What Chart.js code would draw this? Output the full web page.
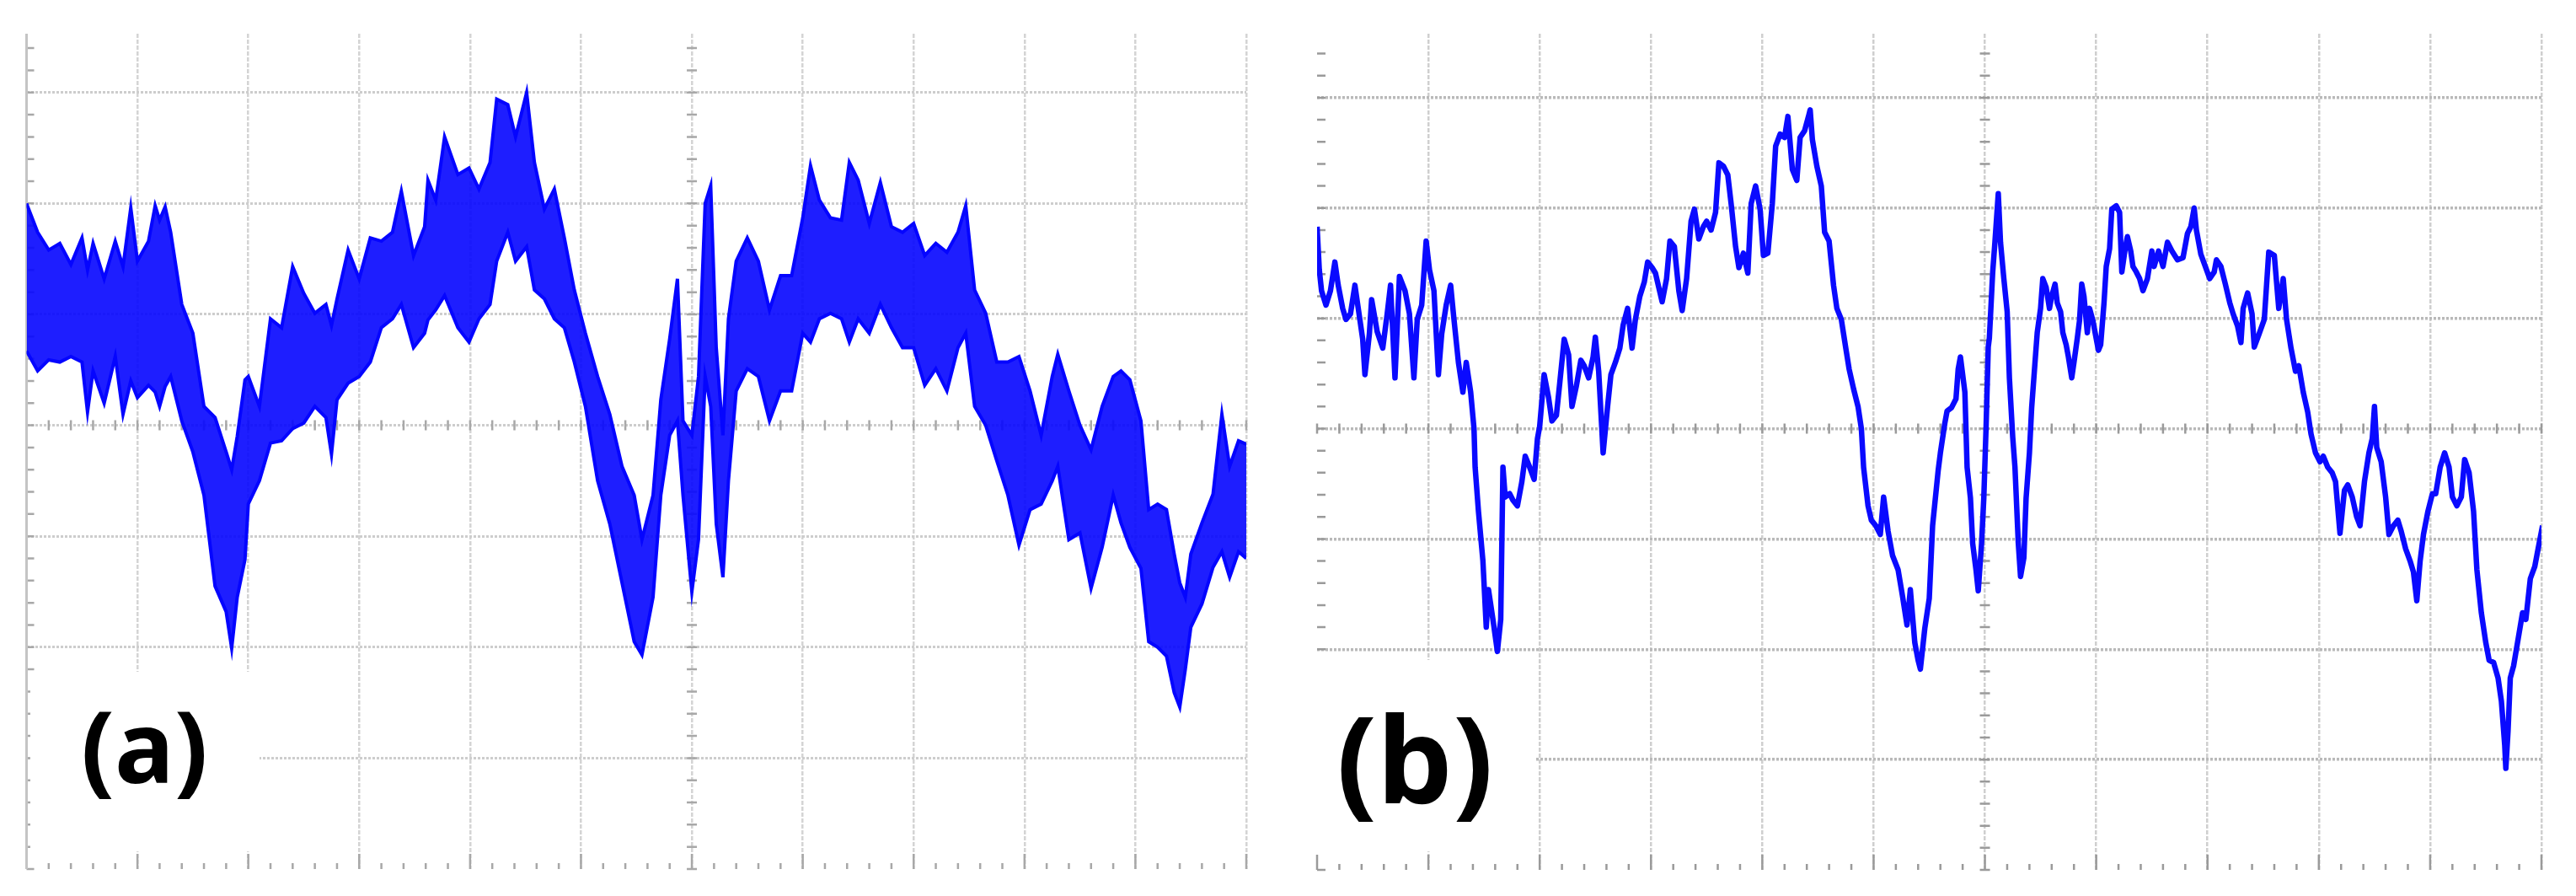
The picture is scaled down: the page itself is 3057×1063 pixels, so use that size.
<!DOCTYPE html>
<html>
<head>
<meta charset="utf-8">
<script src="https://cdn.jsdelivr.net/npm/chart.js@4.4.1/dist/chart.umd.min.js"></script>
<style>
  html, body { margin: 0; padding: 0; background: #fff; }
  #page { position: relative; width: 3057px; height: 1063px; overflow: hidden; background: #fff; }
  canvas { position: absolute; top: 0; }
  .tag { position: absolute; background: #fff; }
  .tag span { position: absolute; font-family: "Noto Sans", sans-serif; font-weight: bold; color: #000; white-space: nowrap; }
</style>
</head>
<body>
<div id="page">
  <canvas id="scopeA" width="1530" height="1063" style="left:0"></canvas>
  <canvas id="scopeB" width="1527" height="1063" style="left:1530px"></canvas>
  <div class="tag" style="left:36px; top:797px; width:272px; height:213px;">
    <span style="left:60px; top:28px; font-size:118px; line-height:118px;">(a)</span>
  </div>
  <div class="tag" style="left:1558px; top:783px; width:263px; height:227px;">
    <span style="left:28px; top:44px; font-size:142px; line-height:142px;">(b)</span>
  </div>
</div>
<script>
// grid divisions (screen divisions of the scope)
const xTicks = [1, 2, 3, 4, 5, 6, 7, 8, 9, 10, 11];
const yTicks = [-3, -2, -1, 0, 1, 2, 3];

// trace (a): noisy band, upper / lower edge per position (divisions)
const aX = [0.00, 0.10, 0.20, 0.30, 0.40, 0.50, 0.55, 0.60, 0.70, 0.80, 0.87, 0.94, 1.00, 1.10, 1.16, 1.20, 1.25, 1.30, 1.40, 1.50,
  1.60, 1.70, 1.80, 1.85, 1.90, 1.97, 2.00, 2.10, 2.20, 2.30, 2.40, 2.50, 2.60, 2.70, 2.75, 2.80, 2.90, 3.00, 3.10, 3.20,
  3.30, 3.38, 3.49, 3.59, 3.62, 3.69, 3.77, 3.89, 3.99, 4.08, 4.18, 4.24, 4.34, 4.41, 4.51, 4.58, 4.67, 4.76, 4.85, 4.94,
  5.04, 5.15, 5.26, 5.37, 5.48, 5.55, 5.65, 5.72, 5.80, 5.87, 5.92, 6.00, 6.06, 6.12, 6.17, 6.22, 6.28, 6.33, 6.40, 6.50,
  6.60, 6.70, 6.80, 6.90, 7.00, 7.07, 7.15, 7.25, 7.35, 7.42, 7.50, 7.60, 7.70, 7.80, 7.90, 8.00, 8.10, 8.20, 8.30, 8.40,
  8.47, 8.55, 8.65, 8.75, 8.85, 8.95, 9.05, 9.15, 9.25, 9.30, 9.40, 9.50, 9.60, 9.70, 9.80, 9.87, 9.95, 10.05, 10.12, 10.20,
  10.28, 10.35, 10.40, 10.45, 10.50, 10.60, 10.70, 10.78, 10.85, 10.93, 11.00];
const aHi = [2.00, 1.74, 1.58, 1.64, 1.45, 1.69, 1.40, 1.64, 1.32, 1.66, 1.43, 1.96, 1.48, 1.66, 1.98, 1.85, 1.97, 1.74, 1.09, 0.83,
  0.17, 0.07, -0.24, -0.40, -0.10, 0.41, 0.44, 0.17, 0.96, 0.88, 1.43, 1.19, 1.01, 1.09, 0.90, 1.14, 1.58, 1.32, 1.69, 1.66,
  1.74, 2.11, 1.53, 1.79, 2.21, 2.03, 2.60, 2.26, 2.32, 2.13, 2.37, 2.94, 2.89, 2.60, 3.00, 2.37, 1.95, 2.13, 1.69, 1.22,
  0.83, 0.44, 0.10, -0.37, -0.63, -1.03, -0.63, 0.23, 0.78, 1.32, 0.04, -0.09, 0.44, 2.00, 2.16, 0.70, -0.09, 0.96, 1.48, 1.69,
  1.48, 1.04, 1.35, 1.35, 1.87, 2.34, 2.03, 1.87, 1.85, 2.37, 2.21, 1.82, 2.19, 1.79, 1.74, 1.82, 1.53, 1.64, 1.56, 1.74,
  1.98, 1.22, 1.01, 0.57, 0.57, 0.62, 0.31, -0.09, 0.44, 0.64, 0.31, 0.00, -0.22, 0.17, 0.44, 0.49, 0.41, 0.04, -0.76, -0.71,
  -0.76, -1.16, -1.42, -1.55, -1.16, -0.88, -0.62, 0.10, -0.37, -0.14, -0.17];
const aLo = [0.67, 0.49, 0.59, 0.57, 0.62, 0.57, 0.12, 0.49, 0.20, 0.62, 0.10, 0.40, 0.25, 0.36, 0.30, 0.17, 0.35, 0.44, 0.04, -0.24,
  -0.63, -1.45, -1.68, -2.01, -1.55, -1.21, -0.71, -0.50, -0.16, -0.14, -0.03, 0.02, 0.17, 0.07, -0.26, 0.23, 0.38, 0.44, 0.57, 0.88,
  0.96, 1.09, 0.70, 0.83, 0.95, 1.04, 1.17, 0.88, 0.75, 0.96, 1.09, 1.48, 1.74, 1.48, 1.61, 1.22, 1.14, 0.96, 0.88, 0.57,
  0.17, -0.50, -0.89, -1.42, -1.95, -2.07, -1.55, -0.63, -0.09, 0.04, -0.63, -1.50, -1.03, 0.44, 0.17, -0.89, -1.37, -0.50, 0.31, 0.51,
  0.44, 0.04, 0.31, 0.31, 0.83, 0.75, 0.96, 1.01, 0.96, 0.75, 0.96, 0.83, 1.09, 0.88, 0.70, 0.70, 0.36, 0.51, 0.31, 0.70,
  0.83, 0.17, 0.00, -0.32, -0.63, -1.08, -0.76, -0.71, -0.50, -0.37, -1.03, -0.97, -1.47, -1.10, -0.63, -0.88, -1.10, -1.29, -1.95, -2.00,
  -2.08, -2.41, -2.54, -2.20, -1.82, -1.61, -1.28, -1.14, -1.37, -1.14, -1.20];

// trace (b): single line
const bX = [0.00, 0.02, 0.04, 0.08, 0.12, 0.16, 0.19, 0.23, 0.26, 0.30, 0.34, 0.37, 0.41, 0.43, 0.47, 0.49, 0.54, 0.59, 0.63, 0.66,
  0.70, 0.74, 0.79, 0.83, 0.87, 0.90, 0.94, 0.98, 1.01, 1.05, 1.09, 1.12, 1.16, 1.20, 1.23, 1.27, 1.31, 1.34, 1.38, 1.41,
  1.42, 1.45, 1.49, 1.52, 1.54, 1.58, 1.62, 1.65, 1.67, 1.69, 1.73, 1.76, 1.80, 1.84, 1.87, 1.91, 1.95, 1.98, 2.00, 2.04,
  2.08, 2.11, 2.15, 2.18, 2.22, 2.26, 2.29, 2.33, 2.37, 2.40, 2.44, 2.48, 2.50, 2.53, 2.57, 2.61, 2.64, 2.68, 2.72, 2.75,
  2.79, 2.83, 2.86, 2.90, 2.94, 2.97, 3.01, 3.04, 3.10, 3.14, 3.17, 3.21, 3.25, 3.28, 3.32, 3.36, 3.39, 3.43, 3.47, 3.50,
  3.54, 3.58, 3.61, 3.65, 3.69, 3.72, 3.76, 3.79, 3.83, 3.87, 3.90, 3.94, 3.98, 4.01, 4.05, 4.09, 4.12, 4.16, 4.20, 4.23,
  4.27, 4.31, 4.34, 4.38, 4.42, 4.43, 4.45, 4.49, 4.53, 4.56, 4.60, 4.64, 4.67, 4.71, 4.75, 4.78, 4.82, 4.86, 4.89, 4.91,
  4.95, 4.98, 5.02, 5.06, 5.09, 5.13, 5.17, 5.22, 5.26, 5.30, 5.33, 5.37, 5.40, 5.42, 5.46, 5.50, 5.53, 5.58, 5.60, 5.64,
  5.66, 5.70, 5.74, 5.76, 5.78, 5.80, 5.82, 5.84, 5.87, 5.89, 5.92, 5.94, 5.97, 5.99, 6.01, 6.03, 6.04, 6.07, 6.09, 6.12,
  6.14, 6.17, 6.20, 6.22, 6.25, 6.27, 6.30, 6.32, 6.35, 6.37, 6.40, 6.42, 6.45, 6.47, 6.50, 6.52, 6.55, 6.58, 6.60, 6.63,
  6.65, 6.68, 6.70, 6.73, 6.75, 6.78, 6.80, 6.83, 6.85, 6.87, 6.89, 6.92, 6.94, 6.97, 6.99, 7.02, 7.04, 7.07, 7.09, 7.12,
  7.14, 7.18, 7.21, 7.23, 7.26, 7.28, 7.31, 7.33, 7.36, 7.39, 7.42, 7.46, 7.50, 7.52, 7.56, 7.60, 7.64, 7.68, 7.73, 7.78,
  7.82, 7.85, 7.88, 7.90, 7.94, 7.98, 8.02, 8.06, 8.08, 8.12, 8.16, 8.20, 8.23, 8.27, 8.30, 8.32, 8.36, 8.40, 8.42, 8.46,
  8.51, 8.55, 8.60, 8.64, 8.68, 8.71, 8.75, 8.79, 8.82, 8.86, 8.90, 8.93, 8.97, 9.01, 9.04, 9.08, 9.12, 9.15, 9.19, 9.23,
  9.26, 9.30, 9.34, 9.37, 9.41, 9.45, 9.48, 9.50, 9.52, 9.56, 9.60, 9.63, 9.67, 9.71, 9.74, 9.78, 9.82, 9.85, 9.88, 9.91,
  9.94, 9.98, 10.02, 10.05, 10.09, 10.13, 10.17, 10.20, 10.24, 10.28, 10.31, 10.35, 10.39, 10.42, 10.46, 10.50, 10.53, 10.57, 10.61, 10.64,
  10.67, 10.68, 10.70, 10.72, 10.75, 10.79, 10.83, 10.86, 10.90, 10.94, 10.97, 11.01];
const bY = [1.83, 1.44, 1.25, 1.12, 1.25, 1.51, 1.30, 1.09, 0.99, 1.04, 1.30, 1.09, 0.81, 0.49, 0.86, 1.17, 0.88, 0.73, 1.04, 1.30,
  0.46, 1.38, 1.25, 1.04, 0.46, 0.99, 1.12, 1.70, 1.44, 1.25, 0.49, 0.86, 1.12, 1.30, 0.99, 0.60, 0.33, 0.60, 0.33, 0.00,
  -0.35, -0.75, -1.20, -1.80, -1.46, -1.73, -2.02, -1.73, -0.35, -0.62, -0.59, -0.65, -0.70, -0.48, -0.25, -0.35, -0.46, -0.09, 0.02, 0.49,
  0.28, 0.07, 0.12, 0.41, 0.81, 0.67, 0.20, 0.39, 0.62, 0.57, 0.46, 0.65, 0.83, 0.52, -0.22, 0.20, 0.49, 0.60, 0.73, 0.94,
  1.09, 0.73, 0.99, 1.20, 1.33, 1.51, 1.46, 1.41, 1.15, 1.36, 1.70, 1.65, 1.25, 1.07, 1.36, 1.88, 1.99, 1.72, 1.83, 1.88,
  1.80, 1.96, 2.41, 2.38, 2.30, 2.04, 1.65, 1.46, 1.59, 1.41, 2.04, 2.20, 1.99, 1.57, 1.59, 2.04, 2.56, 2.67, 2.64, 2.83,
  2.35, 2.25, 2.64, 2.70, 2.85, 2.89, 2.62, 2.38, 2.20, 1.78, 1.70, 1.30, 1.09, 0.99, 0.73, 0.54, 0.36, 0.20, 0.00, -0.35,
  -0.70, -0.83, -0.88, -0.96, -0.62, -0.93, -1.15, -1.28, -1.52, -1.78, -1.46, -1.94, -2.10, -2.18, -1.81, -1.54, -0.88, -0.38, -0.22, 0.05,
  0.16, 0.19, 0.27, 0.54, 0.65, 0.49, 0.33, -0.35, -0.63, -1.04, -1.28, -1.47, -1.04, -0.63, 0.00, 0.74, 0.82, 1.42, 1.69, 2.13,
  1.69, 1.36, 1.06, 0.46, -0.08, -0.35, -1.04, -1.34, -1.17, -0.63, -0.22, 0.19, 0.60, 0.87, 1.09, 1.36, 1.28, 1.09, 1.20, 1.31,
  1.14, 1.06, 0.87, 0.76, 0.65, 0.46, 0.60, 0.82, 0.98, 1.31, 1.20, 0.87, 1.09, 0.98, 0.87, 0.71, 0.76, 1.14, 1.47, 1.63,
  1.99, 2.02, 1.96, 1.42, 1.63, 1.74, 1.61, 1.47, 1.42, 1.36, 1.25, 1.36, 1.61, 1.47, 1.61, 1.47, 1.69, 1.61, 1.53, 1.55,
  1.77, 1.83, 2.00, 1.80, 1.58, 1.47, 1.36, 1.42, 1.53, 1.47, 1.31, 1.14, 1.04, 0.93, 0.78, 1.09, 1.23, 1.04, 0.74, 0.85,
  0.99, 1.60, 1.57, 1.09, 1.36, 0.99, 0.73, 0.52, 0.57, 0.33, 0.15, -0.05, -0.22, -0.30, -0.25, -0.35, -0.40, -0.48, -0.95, -0.56,
  -0.51, -0.62, -0.80, -0.88, -0.48, -0.22, -0.09, 0.20, -0.17, -0.30, -0.62, -0.96, -0.88, -0.83, -0.93, -1.09, -1.20, -1.30, -1.56, -1.20,
  -0.96, -0.75, -0.59, -0.59, -0.35, -0.22, -0.35, -0.62, -0.70, -0.62, -0.28, -0.40, -0.75, -1.28, -1.67, -1.94, -2.10, -2.12, -2.26, -2.47,
  -2.87, -3.08, -2.74, -2.26, -2.15, -1.91, -1.67, -1.73, -1.36, -1.25, -1.09, -0.88];

const pts = (xs, ys) => xs.map((x, i) => ({ x: x, y: ys[i] }));

// oscilloscope graticule marks: small ticks on the centre lines, left edge and bottom edge
const graticule = {
  id: 'graticule',
  beforeDatasetsDraw(chart, args, opts) {
    const ctx = chart.ctx;
    const xs = chart.scales.x, ys = chart.scales.y;
    const cx = xs.getPixelForValue(6), cy = ys.getPixelForValue(0);
    const left = xs.getPixelForValue(0), bottom = ys.getPixelForValue(-4);
    ctx.save();
    ctx.strokeStyle = opts.color;
    ctx.lineWidth = 2.5;
    ctx.beginPath();
    for (let i = -20; i <= 17; i++) {
      const py = ys.getPixelForValue(i / 5);
      ctx.moveTo(cx - 6, py); ctx.lineTo(cx + 6, py);
      ctx.moveTo(left, py); ctx.lineTo(left + opts.edgeTick, py);
    }
    for (let i = 0; i <= 55; i++) {
      const px = xs.getPixelForValue(i / 5);
      ctx.moveTo(px, cy - 6); ctx.lineTo(px, cy + 6);
      ctx.moveTo(px, bottom); ctx.lineTo(px, bottom - (i % 5 === 0 ? 18 : 7));
    }
    ctx.stroke();
    if (opts.leftLine) {
      ctx.strokeStyle = opts.leftLine;
      ctx.lineWidth = 3;
      ctx.beginPath();
      ctx.moveTo(left, ys.getPixelForValue(ys.max));
      ctx.lineTo(left, bottom);
      ctx.stroke();
    }
    ctx.restore();
  }
};

function scopeOptions(pad, yMax, vColor, hColor, hWidth, marks) {
  return {
    responsive: false,
    animation: false,
    events: [],
    layout: { padding: pad },
    plugins: { legend: { display: false }, tooltip: { enabled: false }, graticule: marks },
    elements: { point: { radius: 0 }, line: { tension: 0 } },
    scales: {
      x: {
        type: 'linear', min: 0, max: 11,
        afterBuildTicks: s => { s.ticks = xTicks.map(v => ({ value: v })); },
        ticks: { display: false },
        grid: { color: vColor, lineWidth: 2.5, drawTicks: false },
        border: { display: false, dash: [5, 2] }
      },
      y: {
        type: 'linear', min: -4, max: yMax,
        afterBuildTicks: s => { s.ticks = yTicks.map(v => ({ value: v })); },
        ticks: { display: false },
        grid: { color: hColor, lineWidth: hWidth, drawTicks: false },
        border: { display: false, dash: [3, 2] }
      }
    }
  };
}

new Chart(document.getElementById('scopeA'), {
  type: 'line',
  data: {
    datasets: [
      { data: pts(aX, aHi), borderColor: '#0505ff', borderWidth: 4, fill: false },
      { data: pts(aX, aLo), borderColor: '#0505ff', borderWidth: 4, fill: '-1', backgroundColor: 'rgba(5,5,255,0.9)' }
    ]
  },
  options: scopeOptions({ left: 31.5, right: 51, top: 40, bottom: 32 }, 3.53, '#d4d4d4', '#cdcdcd', 3,
    { color: '#a8a8a8', edgeTick: 9, leftLine: '#c4c4c4' }),
  plugins: [graticule]
});

new Chart(document.getElementById('scopeB'), {
  type: 'line',
  data: {
    datasets: [
      { data: pts(bX, bY), borderColor: '#0a0aff', borderWidth: 6.5, fill: false, borderJoinStyle: 'round' }
    ]
  },
  options: scopeOptions({ left: 33, right: 41, top: 40, bottom: 31 }, 3.58, '#cfcfcf', '#b9b9b9', 3.5,
    { color: '#9a9a9a', edgeTick: 10, leftLine: null }),
  plugins: [graticule]
});
</script>
</body>
</html>
